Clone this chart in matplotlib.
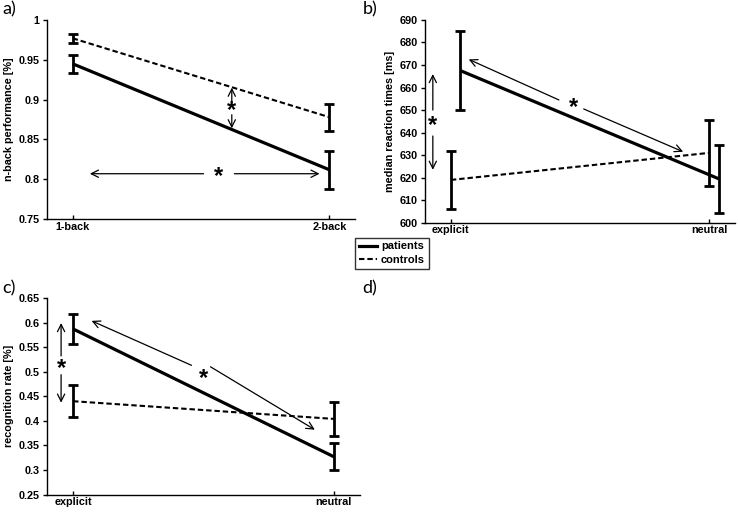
import numpy as np
import matplotlib.pyplot as plt
from matplotlib.ticker import FormatStrFormatter

# a) n-back performance
nback_labels = ["1-back", "2-back"]
nback_pat = [0.945, 0.812]
nback_pat_err = [0.011, 0.024]
nback_con = [0.977, 0.878]
nback_con_err = [0.006, 0.017]

# b) median reaction times
rt_labels = ["explicit", "neutral"]
rt_pat = [667.5, 619.5]
rt_pat_err = [17.5, 15.0]
rt_con = [619.0, 631.0]
rt_con_err = [12.8, 14.5]

# c) recognition rate
rec_labels = ["explicit", "neutral"]
rec_pat = [0.587, 0.327]
rec_pat_err = [0.030, 0.027]
rec_con = [0.440, 0.404]
rec_con_err = [0.032, 0.035]

TICK_FONT = {"family": "Liberation Sans", "weight": "bold", "size": 7.8}
PANEL_FONT = {"family": "Lato", "size": 13}


def draw_panel(ax, labels, pat, pat_err, con, con_err, ylim, yticks, ylabel,
               pat_shift=0.0, fmt="%g"):
    x = np.arange(1, len(labels) + 1)
    ax.plot(x + pat_shift, pat, color="black", lw=2.3, solid_capstyle="butt")
    ax.plot(x, con, color="black", lw=1.5, dashes=(2.6, 1.4))
    ax.errorbar(x + pat_shift, pat, yerr=pat_err, fmt="none", ecolor="black",
                elinewidth=2.0, capsize=3.5, capthick=2.0)
    ax.errorbar(x, con, yerr=con_err, fmt="none", ecolor="black",
                elinewidth=2.0, capsize=3.5, capthick=2.0)
    ax.set_xlim(0.9, 2.1)
    ax.set_ylim(*ylim)
    ax.set_yticks(yticks)
    ax.yaxis.set_major_formatter(FormatStrFormatter(fmt))
    ax.set_xticks(x)
    ax.set_xticklabels(labels)
    for sp in ["top", "right"]:
        ax.spines[sp].set_visible(False)
    for sp in ["left", "bottom"]:
        ax.spines[sp].set_linewidth(1.0)
    ax.tick_params(axis="x", direction="in", length=3, width=1, pad=2)
    ax.tick_params(axis="y", direction="out", length=3, width=1, pad=2.5)
    for lab in ax.get_xticklabels() + ax.get_yticklabels():
        lab.set_fontproperties(TICK_FONT)
    ax.set_ylabel(ylabel, fontdict=TICK_FONT, labelpad=3)


def arrow(ax, start, end):
    ax.annotate("", xy=end, xytext=start,
                arrowprops=dict(arrowstyle="->", lw=0.9, color="black",
                                mutation_scale=13, shrinkA=0, shrinkB=0))


def star(ax, pos):
    ax.text(pos[0], pos[1], "*", ha="center", va="center",
            fontsize=17, fontweight="bold", family="Liberation Sans")


fig = plt.figure(figsize=(7.38, 5.12), dpi=100)

ax_a = fig.add_axes([0.0637, 0.572, 0.4173, 0.389])
draw_panel(ax_a, nback_labels, nback_pat, nback_pat_err, nback_con, nback_con_err,
           (0.75, 1.0), np.arange(0.75, 1.001, 0.05), "n-back performance [%]",
           fmt="%.2g")
ax_a.set_yticklabels(["0.75", "0.8", "0.85", "0.9", "0.95", "1"])
for lab in ax_a.get_yticklabels():
    lab.set_fontproperties(TICK_FONT)
# group difference at x = 1.62 between the two lines
arrow(ax_a, (1.62, 0.896), (1.62, 0.915))
arrow(ax_a, (1.62, 0.881), (1.62, 0.864))
star(ax_a, (1.62, 0.886))
arrow(ax_a, (1.51, 0.807), (1.067, 0.807))
arrow(ax_a, (1.63, 0.807), (1.962, 0.807))
star(ax_a, (1.57, 0.803))

ax_b = fig.add_axes([0.576, 0.565, 0.42, 0.396])
draw_panel(ax_b, rt_labels, rt_pat, rt_pat_err, rt_con, rt_con_err,
           (600, 690), np.arange(600, 691, 10), "median reaction times [ms]",
           pat_shift=0.037)
arrow(ax_b, (0.93, 650), (0.93, 666))
arrow(ax_b, (0.93, 638.5), (0.93, 623.5))
star(ax_b, (0.93, 643))
arrow(ax_b, (1.418, 654.5), (1.069, 672.5))
arrow(ax_b, (1.514, 650.5), (1.899, 631.5))
star(ax_b, (1.475, 651))

ax_c = fig.add_axes([0.0637, 0.034, 0.424, 0.384])
draw_panel(ax_c, rec_labels, rec_pat, rec_pat_err, rec_con, rec_con_err,
           (0.25, 0.65), np.arange(0.25, 0.651, 0.05), "recognition rate [%]")
ax_c.set_yticklabels(["0.25", "0.3", "0.35", "0.4", "0.45", "0.5",
                      "0.55", "0.6", "0.65"])
for lab in ax_c.get_yticklabels():
    lab.set_fontproperties(TICK_FONT)
arrow(ax_c, (0.954, 0.532), (0.954, 0.599))
arrow(ax_c, (0.954, 0.494), (0.954, 0.437))
star(ax_c, (0.954, 0.507))
arrow(ax_c, (1.454, 0.513), (1.071, 0.6035))
arrow(ax_c, (1.527, 0.510), (1.927, 0.382))
star(ax_c, (1.499, 0.486))

# legend
h_pat, = ax_c.plot([], [], color="black", lw=2.3)
h_con, = ax_c.plot([], [], color="black", lw=1.5, dashes=(2.6, 1.4))
leg = fig.legend([h_pat, h_con], ["patients", "controls"], loc="upper left",
                 bbox_to_anchor=(0.481, 0.536), frameon=True, fancybox=False,
                 handlelength=1.6, handletextpad=0.4, borderpad=0.35,
                 labelspacing=0.3, borderaxespad=0,
                 prop={"family": "Liberation Sans", "weight": "bold", "size": 8})
leg.get_frame().set_edgecolor("black")
leg.get_frame().set_linewidth(1.0)

# panel letters
fig.text(0.003, 0.982, "a)", va="center", ha="left", fontdict=PANEL_FONT)
fig.text(0.491, 0.982, "b)", va="center", ha="left", fontdict=PANEL_FONT)
fig.text(0.003, 0.436, "c)", va="center", ha="left", fontdict=PANEL_FONT)
fig.text(0.491, 0.436, "d)", va="center", ha="left", fontdict=PANEL_FONT)

fig.savefig("out.png", dpi=100)
